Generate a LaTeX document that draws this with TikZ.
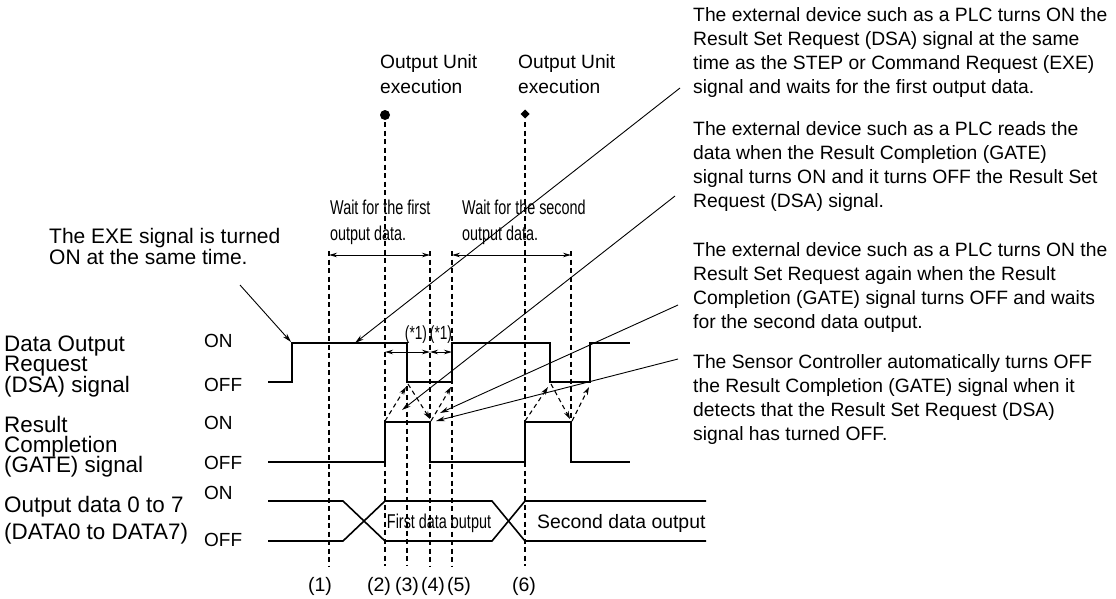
\documentclass[tikz,border=0pt]{standalone}
\usepackage{fontspec}
\setmainfont{Liberation Sans}
\newfontfamily\narrowfont[FakeStretch=0.72]{Liberation Sans}
\usetikzlibrary{arrows.meta}
\newcommand{\fsz}[2]{\fontsize{#1}{#2}\selectfont\lineskiplimit=-100pt\lineskip=0pt}
\begin{document}
\begin{tikzpicture}[x=1pt,y=-1pt,
  sig/.style={line width=2pt, line join=miter},
  guide/.style={line width=1.2pt, dash pattern=on 5pt off 3.5pt},
  callout/.style={line width=0.9pt, -{Stealth[length=9pt,width=5pt]}},
  cause/.style={line width=1.1pt, dash pattern=on 4.5pt off 3.5pt, -{Stealth[length=8pt,width=5pt]}},
  span/.style={line width=1pt, {Stealth[length=8pt,width=4.5pt]}-{Stealth[length=8pt,width=4.5pt]}},
  txt/.style={inner sep=0pt, anchor=north west, align=left},
  lvl/.style={inner sep=0pt, anchor=west, font=\fsz{19}{22}},
  num/.style={inner sep=0pt, anchor=base, font=\fsz{19.5}{22}},
]
\useasboundingbox (0,0) rectangle (1116,598);

% ---------- top labels ----------
\node[txt, font=\fsz{19.2}{25}] (exec1) at (380,50.5) {\strut Output Unit\\execution};
\node[txt, font=\fsz{19.2}{25}] (exec2) at (518,50.5) {\strut Output Unit\\execution};
\coordinate (d1) at (385,115);
\coordinate (d2) at (525,114);
\fill (d1) circle (5pt);
\fill (525,109.5) -- (529.5,114) -- (525,118.5) -- (520.5,114) -- cycle;

% ---------- guide lines ----------
\draw[guide] (385,122) -- (385,566);
\draw[guide] (525,122) -- (525,566);
\draw[guide] (329,251) -- (329,566);
\draw[guide] (430,251) -- (430,566);
\draw[guide] (452,251) -- (452,566);
\draw[guide] (407,386) -- (407,566);
\draw[guide] (571,251) -- (571,421);

% ---------- wait spans ----------
\node[txt, font=\narrowfont\fsz{20}{26.4}] (wait1) at (330,195.8) {\strut Wait for the first\\output data.};
\node[txt, font=\narrowfont\fsz{20}{26.4}] (wait2) at (462,195.8) {\strut Wait for the second\\output data.};
\coordinate (w1a) at (329,255); \coordinate (w1b) at (430,255);
\coordinate (w2a) at (452,255); \coordinate (w2b) at (571,255);
\draw[span] (w1a) -- (w1b);
\draw[span] (w2a) -- (w2b);

% ---------- (*1) spans ----------
\coordinate (s1a) at (385,352); \coordinate (s1b) at (430,352); \coordinate (s1c) at (452,352);
\draw[span] (s1a) -- (s1b);
\draw[span] (s1b) -- (s1c);
\node[inner sep=0pt, anchor=base, font=\narrowfont\fsz{19}{20}] (st1) at (416,339) {(*1)};
\node[inner sep=0pt, anchor=base, font=\narrowfont\fsz{19}{20}] (st2) at (441,339) {(*1)};

% ---------- signals ----------
\draw[sig] (268,382) -- (292,382) -- (292,343) -- (407,343) -- (407,382) -- (452,382)
  -- (452,343) -- (550,343) -- (550,382) -- (590,382) -- (590,343) -- (630,343);
\draw[sig] (268,462) -- (385,462) -- (385,422) -- (430,422) -- (430,462) -- (525,462)
  -- (525,422) -- (571,422) -- (571,462) -- (630,462);
\draw[sig, line width=1.6pt] (268,501) -- (343,501) -- (385,541) -- (492,541) -- (525,501) -- (706,501);
\draw[sig, line width=1.6pt] (268,541) -- (343,541) -- (385,501) -- (492,501) -- (525,541) -- (706,541);
\node[inner sep=0pt, anchor=base, font=\narrowfont\fsz{20}{22}] (first) at (439,528) {First data output};
\node[inner sep=0pt, anchor=base west, font=\fsz{19.4}{22}] (second) at (537,528) {Second data output};

% ---------- cause arrows ----------
\coordinate (gr1) at (385,421); \coordinate (df1) at (406,387);
\coordinate (df1s) at (408,384); \coordinate (gf1) at (430,419);
\coordinate (gf1s) at (431,421); \coordinate (dr1) at (451,387);
\draw[cause] (gr1) -- (df1);
\draw[cause] (df1s) -- (gf1);
\draw[cause] (gf1s) -- (dr1);
\coordinate (gr2) at (525,421); \coordinate (df2) at (548,387);
\coordinate (df2s) at (551,384); \coordinate (gf2) at (570,419);
\coordinate (gf2s) at (572,421); \coordinate (dr2) at (589,387);
\draw[cause] (gr2) -- (df2);
\draw[cause] (df2s) -- (gf2);
\draw[cause] (gf2s) -- (dr2);

% ---------- left labels ----------
\node[txt, font=\fsz{22.4}{20.3}] (dsa) at (4,335.8) {\strut Data Output\\Request\\(DSA) signal};
\node[txt, font=\fsz{22.4}{20.3}] (gate) at (4,415.8) {\strut Result\\Completion\\(GATE) signal};
\node[txt, font=\fsz{22.4}{27}] (data) at (4,493.1) {\strut Output data 0 to 7\\(DATA0 to DATA7)};
\node[lvl] (on1) at (204,341) {ON};
\node[lvl] (off1) at (204,385) {OFF};
\node[lvl] (on2) at (204,423) {ON};
\node[lvl] (off2) at (204,463) {OFF};
\node[lvl] (on3) at (204,493) {ON};
\node[lvl] (off3) at (204,540) {OFF};

% ---------- EXE callout ----------
\node[txt, font=\fsz{21}{21}] (exe) at (49,228.3) {\strut The EXE signal is turned\\ON at the same time.};
\coordinate (exes) at (240,285); \coordinate (exee) at (291,342);
\draw[callout] (exes) -- (exee);

% ---------- right notes ----------
\node[txt, font=\fsz{19.3}{24}] (n1) at (693,4.9) {\strut The external device such as a PLC turns ON the\\Result Set Request (DSA) signal at the same\\time as the STEP or Command Request (EXE)\\signal and waits for the first output data.};
\node[txt, font=\fsz{19.3}{24}] (n2) at (693,118.2) {\strut The external device such as a PLC reads the\\data when the Result Completion (GATE)\\signal turns ON and it turns OFF the Result Set\\Request (DSA) signal.};
\node[txt, font=\fsz{19.3}{24}] (n3) at (693,239.9) {\strut The external device such as a PLC turns ON the\\Result Set Request again when the Result\\Completion (GATE) signal turns OFF and waits\\for the second data output.};
\node[txt, font=\fsz{19.3}{24}] (n4) at (693,351.9) {\strut The Sensor Controller automatically turns OFF\\the Result Completion (GATE) signal when it\\detects that the Result Set Request (DSA)\\signal has turned OFF.};
\coordinate (p1s) at (680,88);  \coordinate (p1e) at (355,343);
\coordinate (p2s) at (675,196); \coordinate (p2e) at (402,410);
\coordinate (p3s) at (678,305); \coordinate (p3e) at (440,413);
\coordinate (p4s) at (678,359); \coordinate (p4e) at (436,421);
\draw[callout] (p1s) -- (p1e);
\draw[callout] (p2s) -- (p2e);
\draw[callout] (p3s) -- (p3e);
\draw[callout] (p4s) -- (p4e);

% ---------- bottom numbers ----------
\node[num] (l1) at (320,591) {(1)};
\node[num] (l2) at (379,591) {(2)};
\node[num] (l3) at (407,591) {(3)};
\node[num] (l4) at (433,591) {(4)};
\node[num] (l5) at (459,591) {(5)};
\node[num] (l6) at (524,591) {(6)};
\end{tikzpicture}
\end{document}
